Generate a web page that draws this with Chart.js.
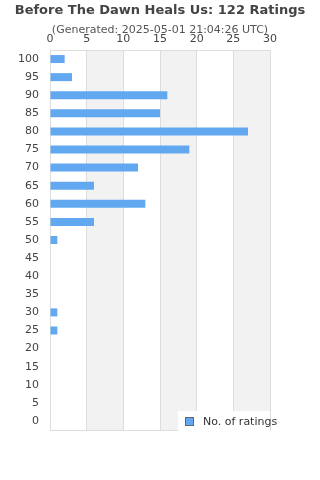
<!DOCTYPE html>
<html><head><meta charset="utf-8">
<script src="https://cdn.jsdelivr.net/npm/chart.js@4/dist/chart.umd.min.js"></script>
<style>
html,body{margin:0;padding:0;background:#fff;}
#wrap{position:relative;width:320px;height:480px;font-family:"DejaVu Sans",sans-serif;}
#title{position:absolute;left:0;top:2px;width:320px;text-align:center;font-weight:bold;font-size:13px;color:#444;}
#sub{position:absolute;left:0;top:23px;width:320px;text-align:center;font-size:11px;color:#555;}
#legend{position:absolute;left:178px;top:411px;width:92px;height:21px;background:#fff;font-size:11px;color:#333;}
#legend .sw{position:absolute;left:7px;top:6px;width:7px;height:7px;background:#62a8f0;border:1px solid #666;}
#legend .tx{position:absolute;left:25px;top:4px;white-space:nowrap;}
canvas{position:absolute;left:0;top:0;}
</style></head>
<body><div id="wrap">
<canvas id="c" width="320" height="480"></canvas>
<div id="title">Before The Dawn Heals Us: 122 Ratings</div>
<div id="sub">(Generated: 2025-05-01 21:04:26 UTC)</div>
<div id="legend"><div class="sw"></div><div class="tx">No. of ratings</div></div>
</div>
<script>
const categories = ["100","95","90","85","80","75","70","65","60","55","50","45","40","35","30","25","20","15","10","5","0"];
const ratings = [2,3,16,15,27,19,12,6,13,6,1,0,0,0,1,1,0,0,0,0,0];
const xTicks = [0,5,10,15,20,25,30];
const seriesLabel = "No. of ratings";

const bands = {
  id:'bands',
  beforeDraw(chart){
    const {ctx, chartArea:a, scales:{x}} = chart;
    ctx.save();
    ctx.fillStyle = '#f2f2f2';
    for (let i=1;i<xTicks.length;i+=2){
      const x0 = x.getPixelForValue(xTicks[i]);
      const x1 = i+1<xTicks.length ? x.getPixelForValue(xTicks[i+1]) : a.right;
      ctx.fillRect(x0, a.top, x1-x0, a.bottom-a.top);
    }
    ctx.strokeStyle = '#ddd';
    ctx.lineWidth = 1;
    ctx.strokeRect(Math.round(a.left)+0.5, Math.round(a.top)+0.5, Math.round(a.right-a.left), Math.round(a.bottom-a.top));
    ctx.restore();
  }
};

new Chart(document.getElementById('c'), {
  type:'bar',
  data:{labels:categories, datasets:[{label:seriesLabel, data:ratings, backgroundColor:'#62a8f0', barThickness:8, inflateAmount:0, borderWidth:0}]},
  options:{
    indexAxis:'y', responsive:false, animation:false,
    layout:{padding:{top:30,bottom:50,left:0,right:50}},
    plugins:{legend:{display:false}, title:{display:false}, tooltip:{enabled:false}},
    scales:{
      x:{position:'top', min:0, max:30,
        afterFit(s){s.height=20;},
        afterBuildTicks(s){s.ticks = xTicks.map(v=>({value:v}));},
        ticks:{color:'#444', font:{family:'DejaVu Sans', size:11}, padding:4, maxRotation:0},
        grid:{color:'#ddd', drawTicks:false}, border:{display:false}},
      y:{
        afterFit(s){s.width=50;},
        ticks:{color:'#444', font:{family:'DejaVu Sans', size:11}, padding:11, autoSkip:false},
        grid:{display:false, drawTicks:false}, border:{display:false}}
    }
  },
  plugins:[bands]
});
</script>
</body></html>
